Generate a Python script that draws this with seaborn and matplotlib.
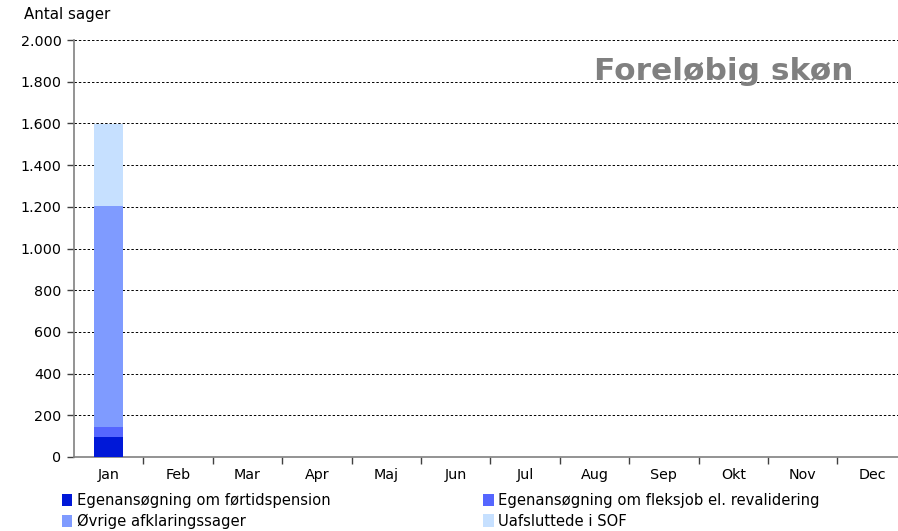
import matplotlib
matplotlib.use("Agg")
import matplotlib.pyplot as plt
import seaborn as sns
import numpy as np
import pandas as pd
from matplotlib.patches import Patch
from matplotlib.ticker import FuncFormatter, FixedLocator

months = ["Jan", "Feb", "Mar", "Apr", "Maj", "Jun", "Jul", "Aug", "Sep", "Okt", "Nov", "Dec"]
fortidspension = [95, 0, 0, 0, 0, 0, 0, 0, 0, 0, 0, 0]
fleksjob = [50, 0, 0, 0, 0, 0, 0, 0, 0, 0, 0, 0]
ovrige = [1060, 0, 0, 0, 0, 0, 0, 0, 0, 0, 0, 0]
uafsluttede = [390, 0, 0, 0, 0, 0, 0, 0, 0, 0, 0, 0]

series_names = ["Egenansøgning om førtidspension",
                "Egenansøgning om fleksjob el. revalidering",
                "Øvrige afklaringssager",
                "Uafsluttede i SOF"]
colors = ["#0018D8", "#5566FF", "#7F9BFF", "#C6E0FF"]

sns.set_theme(style="white")
plt.rcParams['font.family'] = ['DejaVu Sans']
plt.rcParams['text.color'] = 'black'
plt.rcParams['xtick.color'] = 'black'
plt.rcParams['ytick.color'] = 'black'

fig = plt.figure(figsize=(8.98, 5.31), dpi=100)
ax_left = 74 / 898
ax_bottom = 1 - 457 / 531
ax_top = 1 - 40 / 531
ax = fig.add_axes([ax_left, ax_bottom, 1 - ax_left, ax_top - ax_bottom])

series = [fortidspension, fleksjob, ovrige, uafsluttede]
cum = np.cumsum(np.array(series, dtype=float), axis=0)
# draw from tallest cumulative to smallest so each segment is visible
for i in range(3, -1, -1):
    df = pd.DataFrame({"month": months, "value": cum[i]})
    sns.barplot(data=df, x="month", y="value", color=colors[i], width=0.42,
                saturation=1, ax=ax, zorder=3, linewidth=0, errorbar=None)

cat_w = 69.4
ax.set_xlim(-0.5, -0.5 + (898 - 74) / cat_w)
ax.set_ylim(0, 2000)
ax.set_yticks(np.arange(0, 2001, 200))
ax.yaxis.set_major_formatter(FuncFormatter(lambda v, p: f"{int(v):,}".replace(",", ".")))
ax.grid(axis="y", color="black", linestyle=(0, (2.5, 2)), linewidth=0.7, zorder=0)
ax.set_axisbelow(True)

for s in ["top", "right"]:
    ax.spines[s].set_visible(False)
for s in ["left", "bottom"]:
    ax.spines[s].set_color("#808080")
    ax.spines[s].set_linewidth(1.2)

ax.set_xlabel("")
ax.set_ylabel("")
ax.set_xticks(range(12))
ax.set_xticklabels(months)
ax.tick_params(axis="x", which="major", length=0, labelsize=10.3, pad=8, labelcolor="black")
ax.xaxis.set_minor_locator(FixedLocator(np.arange(0.5, 11.6, 1)))
ax.tick_params(axis="x", which="minor", length=5, width=1, color="#404040", bottom=True)
ax.tick_params(axis="y", length=5, width=1, color="#404040", left=True, labelsize=10.3, pad=4,
               labelcolor="black")

fig.text(24 / 898, 1 - 15 / 531, "Antal sager", fontsize=10.8, va="center", ha="left",
         color="black")
fig.text(853 / 898, 1 - 72 / 531, "Foreløbig skøn", fontsize=22.5, fontweight="bold",
         color="#808080", ha="right", va="center")

handles = [Patch(facecolor=c, edgecolor="none") for c in colors]
order = [0, 2, 1, 3]
leg = fig.legend([handles[i] for i in order], [series_names[i] for i in order],
                 loc="lower left", bbox_to_anchor=(56 / 898, -0.007), ncol=2,
                 frameon=False, fontsize=10.6, handlelength=0.7, handleheight=0.9,
                 handletextpad=0.3, columnspacing=10.4, labelspacing=0.35, borderaxespad=0)
for t in leg.get_texts():
    t.set_color("black")

fig.savefig("out.png", dpi=100)
